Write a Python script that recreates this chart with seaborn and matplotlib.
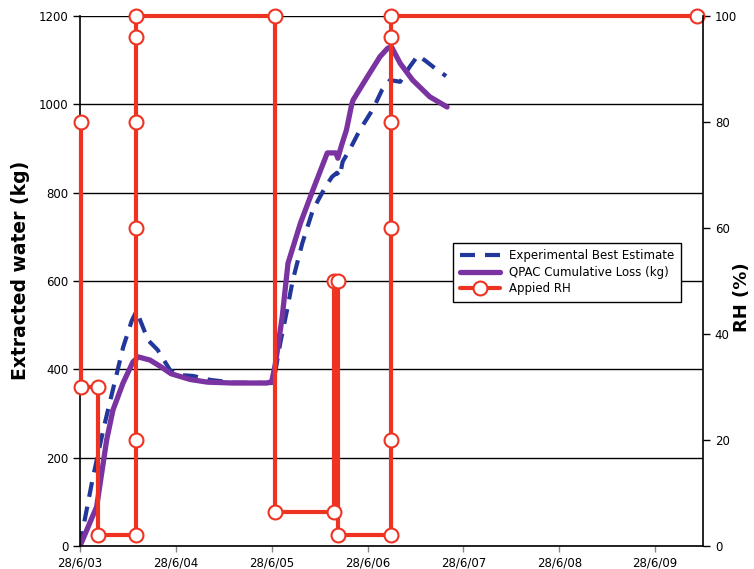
import matplotlib
matplotlib.use("Agg")
import matplotlib.pyplot as plt
import seaborn as sns
import numpy as np
from matplotlib.lines import Line2D

sns.set_theme(style="white")
plt.rcParams['font.family'] = ['DejaVu Sans']
plt.rcParams['text.color'] = 'black'
plt.rcParams['axes.labelcolor'] = 'black'

# ---- data ----
x_tick_pos = [0, 1, 2, 3, 4, 5, 6]
x_tick_labels = ["28/6/03", "28/6/04", "28/6/05", "28/6/06", "28/6/07", "28/6/08", "28/6/09"]

ebe_x = [0, 0.05, 0.13, 0.25, 0.35, 0.45, 0.54, 0.59, 0.71, 0.81, 0.94, 1.04, 1.18, 1.36, 1.6, 2.0,
         2.03, 2.09, 2.16, 2.22, 2.32, 2.43, 2.56, 2.63, 2.68, 2.71, 2.74, 2.82, 2.92, 3.03, 3.08,
         3.15, 3.235, 3.34, 3.44, 3.527, 3.62, 3.725, 3.82]
ebe_y = [0, 60, 150, 270, 360, 450, 510, 532, 466, 444, 398, 387, 385, 376, 370, 369,
         385, 460, 534, 602, 686, 761, 813, 836, 845, 836, 870, 900, 942, 980, 1000,
         1032, 1055, 1051, 1085, 1111, 1096, 1078, 1064]

qpac_x = [0, 0.174, 0.278, 0.344, 0.449, 0.553, 0.61, 0.73, 0.85, 0.95, 1.15, 1.33, 1.6, 1.95, 2.0,
          2.04, 2.11, 2.17, 2.30, 2.43, 2.58, 2.67, 2.69, 2.73, 2.78, 2.835, 2.85, 3.0, 3.13, 3.21,
          3.25, 3.34, 3.47, 3.65, 3.83]
qpac_y = [0, 89, 240, 308, 369, 417, 428, 421, 405, 390, 377, 371, 369, 369, 372,
          414, 519, 640, 731, 806, 890, 890, 878, 908, 942, 1000, 1010, 1063, 1108, 1127,
          1130, 1093, 1055, 1017, 994]

rh_x = [0.015, 0.015, 0.185, 0.185, 0.585, 0.585, 0.585, 0.585, 0.585, 0.585, 2.035, 2.035,
        2.65, 2.65, 2.69, 2.69, 3.24, 3.24, 3.24, 3.24, 3.24, 3.24, 6.44]
rh_y = [80, 30, 30, 2, 2, 20, 60, 80, 96, 100, 100, 6.5,
        6.5, 50, 50, 2, 2, 20, 60, 80, 96, 100, 100]

y_ticks = [0, 200, 400, 600, 800, 1000, 1200]
rh_ticks = [0, 20, 40, 60, 80, 100]

labels = ["Experimental Best Estimate", "QPAC Cumulative Loss (kg)", "Appied RH"]

# ---- styles ----
c_blue = "#22379a"
c_purple = "#7a33a0"
c_red = "#ee3322"

fig = plt.figure(figsize=(7.54, 5.69), dpi=100)
ax = fig.add_axes([80/754, 1-546/569, 623/754, 530/569])
ax.set_facecolor("white")

sns.lineplot(x=ebe_x, y=ebe_y, estimator=None, sort=False, ax=ax, color=c_blue,
             linewidth=3.0, linestyle=(0, (3.6, 2.4)), label=labels[0], legend=False)
sns.lineplot(x=qpac_x, y=qpac_y, estimator=None, sort=False, ax=ax, color=c_purple,
             linewidth=3.8, label=labels[1], legend=False)

ax.set_xlim(0, 6.5)
ax.set_ylim(0, 1200)
ax.set_yticks(y_ticks)
ax.set_xticks(x_tick_pos)
ax.set_xticklabels(x_tick_labels)
ax.grid(axis="y", color="black", linewidth=1.0)
ax.grid(axis="x", visible=False)
ax.set_axisbelow(True)
for s in ["left", "bottom"]:
    ax.spines[s].set_color("black")
    ax.spines[s].set_linewidth(1.2)
ax.spines["top"].set_visible(False)
ax.spines["right"].set_visible(False)
ax.tick_params(axis="y", direction="out", length=5, width=1, colors="black", labelsize=8.5, left=True)
ax.tick_params(axis="x", direction="out", length=4, width=1, color="#888888", labelcolor="black", labelsize=8.5, bottom=True)
ax.set_ylabel("Extracted water (kg)", fontsize=13.5, fontweight="bold", va="center", ha="center")
ax.yaxis.set_label_coords(-0.0963, 0.52)
ax.set_xlabel("")

ax2 = ax.twinx()
sns.lineplot(x=rh_x, y=rh_y, estimator=None, sort=False, ax=ax2, color=c_red,
             linewidth=3.0, marker="o", markersize=10, markerfacecolor="white",
             markeredgecolor=c_red, markeredgewidth=1.5, clip_on=False,
             label=labels[2], legend=False)
ax2.set_ylim(0, 100)
ax2.set_yticks(rh_ticks)
ax2.grid(False)
for s in ["top", "left", "bottom"]:
    ax2.spines[s].set_visible(False)
ax2.spines["right"].set_color("black")
ax2.spines["right"].set_linewidth(1.2)
ax2.tick_params(axis="y", direction="out", length=5, width=1, colors="black", labelsize=8.5, right=True)
ax2.set_ylabel("RH (%)", fontsize=13, fontweight="bold", rotation=90, va="center", ha="center")
ax2.yaxis.set_label_coords(1.062, 0.47)

handles = [Line2D([], [], color=c_blue, linewidth=3.0, linestyle=(0, (3.6, 2.4))),
           Line2D([], [], color=c_purple, linewidth=3.8),
           Line2D([], [], color=c_red, linewidth=3.0, marker="o", markersize=10,
                  markerfacecolor="white", markeredgecolor=c_red, markeredgewidth=1.5)]
leg = ax2.legend(handles, labels, loc="upper left", bbox_to_anchor=(0.599, 0.572),
                 borderaxespad=0, frameon=True, fancybox=False, edgecolor="black", fontsize=8.5,
                 handlelength=3.4, borderpad=0.55, labelspacing=0.3, framealpha=1)
leg.get_frame().set_linewidth(1.0)
leg.set_zorder(10)

fig.savefig("out.png", dpi=100, facecolor="white")
